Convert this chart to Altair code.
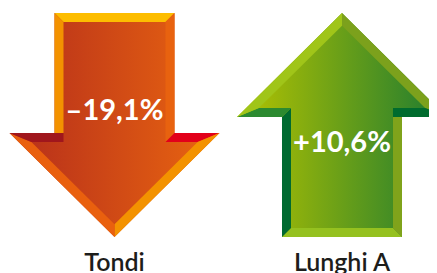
import math
import altair as alt
import pandas as pd

# ---- data ----
categories = ["Tondi", "Lunghi A"]
changes = [-19.1, 10.6]

df = pd.DataFrame({"category": categories, "change": changes})
df["pct"] = [("+" if v > 0 else "\u2013") + f"{abs(v):.1f}".replace(".", ",") + "%" for v in changes]

# ---- arrow glyph geometry (pixel units, down-pointing, centred) ----
HW, SW, TOP, BASE, TIP, BEV = 105, 60, -112, 8, 112, 9

outer = [(-SW, TOP), (SW, TOP), (SW, BASE), (HW, BASE), (0, TIP), (-HW, BASE), (-SW, BASE)]


def offset_polygon(pts, d):
    n = len(pts)
    lines = []
    for i in range(n):
        (x1, y1), (x2, y2) = pts[i], pts[(i + 1) % n]
        dx, dy = x2 - x1, y2 - y1
        L = math.hypot(dx, dy)
        nx, ny = -dy / L, dx / L
        lines.append(((x1 + d * nx, y1 + d * ny), (dx, dy)))
    res = []
    for i in range(n):
        (p1, d1), (p2, d2) = lines[i - 1], lines[i]
        den = d1[0] * d2[1] - d1[1] * d2[0]
        t = ((p2[0] - p1[0]) * d2[1] - (p2[1] - p1[1]) * d2[0]) / den
        res.append((p1[0] + t * d1[0], p1[1] + t * d1[1]))
    return res


inner = offset_polygon(outer, BEV)
O, I = outer, inner
mid_l = (-SW + BEV, BASE)

pieces = {
    "top": [O[0], O[1], I[1], I[0]],
    "shaft_r": [O[1], O[2], I[2], I[1]],
    "head_ur": [O[2], O[3], I[3], I[2]],
    "head_lr": [O[3], O[4], I[4], I[3]],
    "head_ll": [O[4], O[5], I[5], I[4]],
    "head_ul": [O[5], mid_l, I[6], I[5]],
    "shaft_l": [O[6], O[0], I[0], mid_l],
}

colors = {
    "top": ("#FDBD00", "#95C11F"),
    "shaft_r": ("#E8620F", "#006A30"),
    "head_ur": ("#E2001A", "#2C8A30"),
    "head_lr": ("#F39200", "#A0C519"),
    "head_ll": ("#E9600E", "#7CA11C"),
    "head_ul": ("#A0161C", "#006B2E"),
    "shaft_l": ("#F39200", "#80A31B"),
}


def path(pts, flip=False):
    s = -1 if flip else 1
    return "M" + " L".join(f"{s*x:.2f},{s*y:.2f}" for x, y in pts) + " Z"


ARROW_CY = 117

base = alt.Chart(df).transform_calculate(
    dir="datum.change < 0 ? 'down' : 'up'"
)

x_enc = alt.X(
    "category:N", sort=categories,
    scale=alt.Scale(type="point", padding=0.4253, align=0.5504), axis=None,
)


def shape_enc(pts):
    return alt.Shape(
        "dir:N",
        scale=alt.Scale(domain=["down", "up"], range=[path(pts), path(pts, True)]),
        legend=None,
    )


grad_down = alt.LinearGradient(
    gradient="linear", x1=0, x2=1, y1=0, y2=0,
    stops=[alt.GradientStop(offset=0, color="#B52D1B"),
           alt.GradientStop(offset=1, color="#EA6610")],
)
grad_up = alt.LinearGradient(
    gradient="linear", x1=0, x2=1, y1=0, y2=0,
    stops=[alt.GradientStop(offset=0, color="#B6C400"),
           alt.GradientStop(offset=1, color="#1C7A31")],
)

layers = []
for d, g in (("down", grad_down), ("up", grad_up)):
    layers.append(
        base.transform_filter(f"datum.dir == '{d}'")
        .mark_point(filled=True, fill=g, opacity=1, strokeWidth=0)
        .encode(x=x_enc, y=alt.value(ARROW_CY), shape=shape_enc(outer), size=alt.value(4))
    )

for name, pts in pieces.items():
    layers.append(
        base.mark_point(filled=True, opacity=1, strokeWidth=0).encode(
            x=x_enc,
            y=alt.value(ARROW_CY),
            shape=shape_enc(pts),
            size=alt.value(4),
            fill=alt.Fill("dir:N", scale=alt.Scale(domain=["down", "up"], range=list(colors[name])), legend=None),
        )
    )

layers.append(
    base.mark_text(font="Lato", fontSize=29, fontWeight="bold", color="white", baseline="middle").encode(
        x=x_enc,
        y=alt.Y("dir:N", scale=alt.Scale(domain=["down", "up"], range=[87, 151]), axis=None),
        text="pct:N",
    )
)

layers.append(
    base.mark_text(font="Lato", fontSize=25, fontWeight=600, color="#1D1D1B", baseline="alphabetic").encode(
        x=x_enc, y=alt.value(263), text="category:N"
    )
)

chart = (
    alt.layer(*layers)
    .resolve_scale(shape="independent", fill="independent")
    .properties(width=421, height=265, padding=0, autosize=alt.AutoSizeParams(type="none"))
    .configure_view(strokeWidth=0)
)

chart.save("out.html", embed_options={"renderer": "svg", "actions": False})
